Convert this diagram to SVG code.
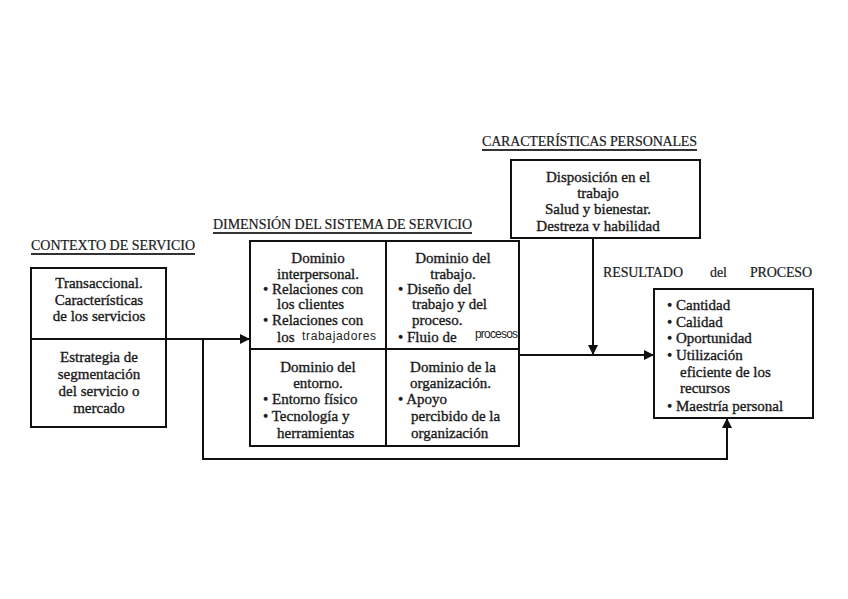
<svg xmlns="http://www.w3.org/2000/svg" width="848" height="599" viewBox="0 0 848 599">
<defs>
<marker id="ah" viewBox="0 0 10 10" refX="10" refY="5" markerWidth="11" markerHeight="10" markerUnits="userSpaceOnUse" orient="auto">
<path d="M0,0 L10,5 L0,10 Z" fill="#111"/>
</marker>
</defs>
<style>
.bx{fill:none;stroke:#111;stroke-width:2}
.ln{fill:none;stroke:#111;stroke-width:2}
.t{font-family:"Liberation Serif",serif;font-size:15px;fill:#1a1a1a;stroke:#1a1a1a;stroke-width:0.35}
.c{text-anchor:middle}
.h{font-family:"Liberation Serif",serif;font-size:14px;fill:#1a1a1a;stroke:#1a1a1a;stroke-width:0.2}
.s{font-family:"Liberation Sans",Arial,sans-serif;font-size:12px;fill:#222}
.ul{stroke:#333;stroke-width:2.2}
</style>
<rect width="848" height="599" fill="#fff"/>

<g id="titulo-contexto">
<text class="h" x="31" y="250" textLength="164">CONTEXTO DE SERVICIO</text>
<line class="ul" x1="31" y1="254" x2="195" y2="254"/>
</g>
<g id="titulo-dimension">
<text class="h" x="213" y="229" textLength="259">DIMENSIÓN DEL SISTEMA DE SERVICIO</text>
<line class="ul" x1="213" y1="233" x2="472" y2="233"/>
</g>
<g id="titulo-caracteristicas">
<text class="h" x="482" y="146" textLength="215">CARACTERÍSTICAS PERSONALES</text>
<line class="ul" x1="482" y1="150" x2="697" y2="150"/>
</g>
<g id="titulo-resultado">
<text class="h" x="603" y="277" textLength="80">RESULTADO</text>
<text class="h" x="710" y="277" textLength="17">del</text>
<text class="h" x="750" y="277" textLength="62">PROCESO</text>
</g>

<g id="contexto">
<rect class="bx" x="31" y="268" width="135" height="159"/>
<line class="ln" x1="31" y1="339" x2="166" y2="339"/>
<text class="t c" x="99" y="288">Transaccional.</text>
<text class="t c" x="99" y="305">Características</text>
<text class="t c" x="99" y="321">de los servicios</text>
<text class="t c" x="99" y="362">Estrategia de</text>
<text class="t c" x="99" y="379">segmentación</text>
<text class="t c" x="99" y="396">del servicio o</text>
<text class="t c" x="99" y="413">mercado</text>
</g>

<g id="dimension">
<rect class="bx" x="250" y="241" width="269" height="205"/>
<line class="ln" x1="386" y1="241" x2="386" y2="446"/>
<line class="ln" x1="250" y1="349" x2="519" y2="349"/>
</g>
<g id="dominio-interpersonal">
<text class="t c" x="318" y="263">Dominio</text>
<text class="t c" x="318" y="279">interpersonal.</text>
<text class="t" x="263" y="294">• Relaciones con</text>
<text class="t" x="277" y="309">los clientes</text>
<text class="t" x="263" y="325">• Relaciones con</text>
<text class="t" x="277" y="342">los</text>
<text class="s" x="302" y="340" textLength="74">trabajadores</text>
</g>
<g id="dominio-trabajo">
<text class="t c" x="453" y="263">Dominio del</text>
<text class="t c" x="453" y="279">trabajo.</text>
<text class="t" x="398" y="294">• Diseño del</text>
<text class="t" x="412" y="309">trabajo y del</text>
<text class="t" x="412" y="325">proceso.</text>
<text class="t" x="398" y="342">• Fluio de</text>
<text class="s" x="475" y="338" textLength="43">procesos</text>
</g>
<g id="dominio-entorno">
<text class="t c" x="318" y="372">Dominio del</text>
<text class="t c" x="318" y="388">entorno.</text>
<text class="t" x="263" y="404">• Entorno físico</text>
<text class="t" x="263" y="421">• Tecnología y</text>
<text class="t" x="277" y="438">herramientas</text>
</g>
<g id="dominio-organizacion">
<text class="t c" x="453" y="372">Dominio de la</text>
<text class="t" x="410" y="388">organización.</text>
<text class="t" x="398" y="404">• Apoyo</text>
<text class="t" x="411" y="421">percibido de la</text>
<text class="t" x="411" y="438">organización</text>
</g>

<g id="caracteristicas">
<rect class="bx" x="511" y="160" width="189" height="78"/>
<text class="t c" x="598" y="182">Disposición en el</text>
<text class="t c" x="598" y="198">trabajo</text>
<text class="t c" x="598" y="214">Salud y bienestar.</text>
<text class="t c" x="598" y="231">Destreza v habilidad</text>
</g>

<g id="resultado">
<rect class="bx" x="654" y="289" width="159" height="129"/>
<text class="t" x="667" y="310">• Cantidad</text>
<text class="t" x="667" y="327">• Calidad</text>
<text class="t" x="667" y="343">• Oportunidad</text>
<text class="t" x="667" y="360">• Utilización</text>
<text class="t" x="680" y="377">eficiente de los</text>
<text class="t" x="680" y="393">recursos</text>
<text class="t" x="667" y="411">• Maestría personal</text>
</g>

<g id="conectores">
<path class="ln" d="M166,339 H250" marker-end="url(#ah)"/>
<path class="ln" d="M203,339 V459 H727 V418" marker-end="url(#ah)"/>
<path class="ln" d="M519,355 H654" marker-end="url(#ah)"/>
<path class="ln" d="M593,238 V355" marker-end="url(#ah)"/>
</g>
</svg>
